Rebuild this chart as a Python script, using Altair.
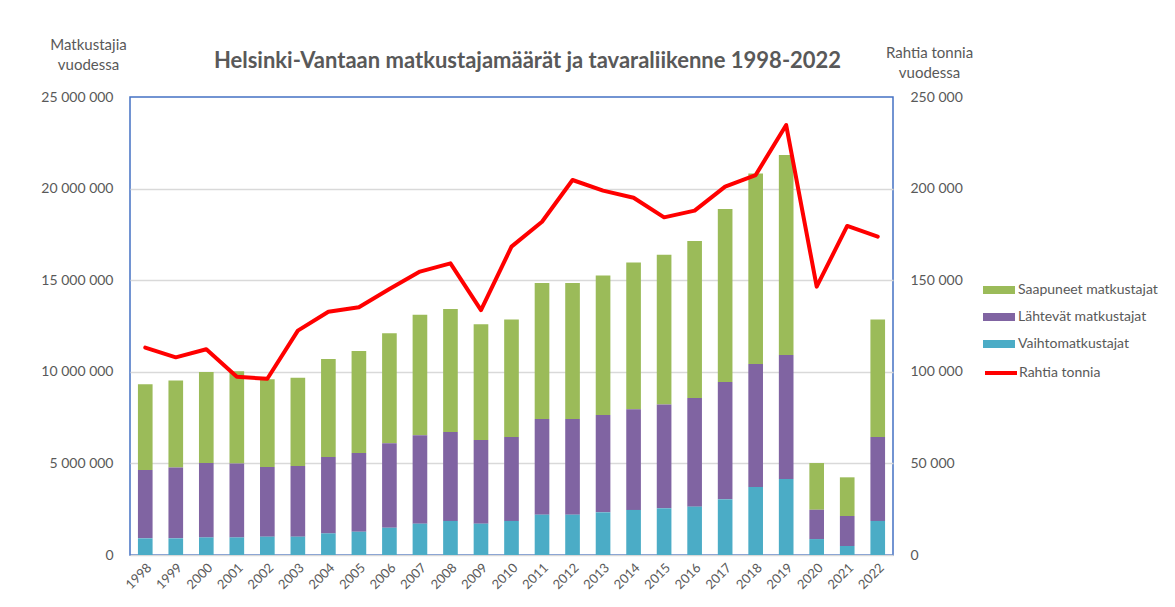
import altair as alt
import pandas as pd

years = [str(y) for y in range(1998, 2023)]
saapuneet = [4680000, 4760000, 4970000, 5040000, 4790000, 4820000, 5350000, 5570000, 6000000,
             6590000, 6720000, 6310000, 6420000, 7430000, 7430000, 7610000, 8010000, 8170000,
             8570000, 9450000, 10400000, 10910000, 2550000, 2110000, 6420000]
lahtevat = [3730000, 3860000, 4060000, 4030000, 3800000, 3860000, 4170000, 4300000, 4610000,
            4820000, 4850000, 4570000, 4580000, 5220000, 5220000, 5310000, 5490000, 5670000,
            5930000, 6400000, 6720000, 6770000, 1600000, 1640000, 4580000]
vaihto = [910000, 910000, 960000, 960000, 1000000, 1000000, 1180000, 1270000, 1490000,
          1710000, 1860000, 1710000, 1860000, 2200000, 2200000, 2330000, 2460000, 2550000,
          2640000, 3040000, 3710000, 4150000, 870000, 490000, 1860000]
rahti = [113200, 107900, 112300, 97300, 96200, 122500, 132800, 135200, 145200, 154700,
         159200, 133700, 168300, 181900, 204700, 198900, 195000, 184300, 188000, 201100,
         207400, 234700, 146500, 179600, 173800]

series_names = ["Saapuneet matkustajat", "Lähtevät matkustajat", "Vaihtomatkustajat"]
series_colors = ["#9BBB59", "#8064A2", "#4BACC6"]
line_name = "Rahtia tonnia"

rows = []
for i, y in enumerate(years):
    for name, vals, ordv in zip(series_names, [saapuneet, lahtevat, vaihto], [3, 2, 1]):
        rows.append({"year": y, "series": name, "value": vals[i], "ord": ordv})
bars_df = pd.DataFrame(rows)
line_df = pd.DataFrame({"year": years, "rahti": rahti, "series": [line_name] * len(years)})

FONT = "Lato"
GRAY = "#595959"
fmt = "replace(format(datum.value, ','), regexp(',', 'g'), ' ')"

x_enc = alt.X(
    "year:N", sort=years, title=None,
    scale=alt.Scale(paddingInner=0.52, paddingOuter=0.26),
    axis=alt.Axis(labelAngle=-45, labelFont=FONT, labelFontSize=13, labelColor=GRAY,
                  ticks=False, domain=False, labelPadding=6),
)

bars = alt.Chart(bars_df).mark_bar().encode(
    x=x_enc,
    y=alt.Y(
        "value:Q", stack="zero",
        scale=alt.Scale(domain=[0, 25000000], nice=False),
        axis=alt.Axis(
            values=[0, 5000000, 10000000, 15000000, 20000000, 25000000],
            labelExpr=fmt, labelFont=FONT, labelFontSize=14, labelColor=GRAY,
            ticks=False, domain=False, labelPadding=17,
            grid=True,
            gridColor={"condition": {"test": "datum.value >= 25000000", "value": "transparent"},
                       "value": "#d9d9d9"},
            gridWidth=1.5,
            title=["Matkustajia", "vuodessa"], titleAngle=0, titleX=-42, titleY=-53,
            titleAlign="center", titleBaseline="middle", titleFont=FONT, titleFontSize=15,
            titleFontWeight="normal", titleColor=GRAY, titleLineHeight=20,
        ),
    ),
    color=alt.Color(
        "series:N",
        scale=alt.Scale(domain=series_names, range=series_colors),
        legend=alt.Legend(
            orient="none", legendX=853, legendY=177, title=None, padding=0,
            symbolType="M-1,-0.25H1V0.25H-1Z", symbolSize=1024, symbolStrokeWidth=0,
            labelFont=FONT, labelFontSize=14, labelColor=GRAY, labelOffset=3, rowPadding=4,
        ),
    ),
    order=alt.Order("ord:Q", sort="ascending"),
)

line = alt.Chart(line_df).mark_line(strokeWidth=4, strokeJoin="round", strokeCap="round").encode(
    x=x_enc,
    y=alt.Y(
        "rahti:Q",
        scale=alt.Scale(domain=[0, 250000], nice=False),
        axis=alt.Axis(
            orient="right",
            values=[0, 50000, 100000, 150000, 200000, 250000],
            labelExpr=fmt, labelFont=FONT, labelFontSize=14, labelColor=GRAY,
            ticks=False, domain=False, labelPadding=17, grid=False,
            title=["Rahtia tonnia", "vuodessa"], titleAngle=0, titleX=36, titleY=-45,
            titleAlign="center", titleBaseline="middle", titleFont=FONT, titleFontSize=15,
            titleFontWeight="normal", titleColor=GRAY, titleLineHeight=20,
        ),
    ),
    stroke=alt.Stroke(
        "series:N",
        scale=alt.Scale(domain=[line_name], range=["#FF0000"]),
        legend=alt.Legend(
            orient="none", legendX=853, legendY=258, title=None, padding=0,
            symbolType="stroke", symbolSize=1024, symbolStrokeWidth=4,
            labelFont=FONT, labelFontSize=14, labelColor=GRAY, labelOffset=0,
        ),
    ),
)

chart = alt.layer(bars, line).resolve_scale(y="independent").properties(
    width=763, height=458,
    autosize=alt.AutoSizeParams(type="none"),
    padding={"left": 122, "top": 89, "right": 274, "bottom": 44},
    title=alt.TitleParams(
        "Helsinki-Vantaan matkustajamäärät ja tavaraliikenne 1998-2022",
        font=FONT, fontSize=22, fontWeight="bold", color=GRAY, anchor="middle",
        dx=16, dy=62, offset=26,
    ),
).configure(font=FONT).configure_view(stroke="#4472C4", strokeWidth=1.5)

chart.save("out.html", embed_options={"renderer": "svg", "actions": False})
